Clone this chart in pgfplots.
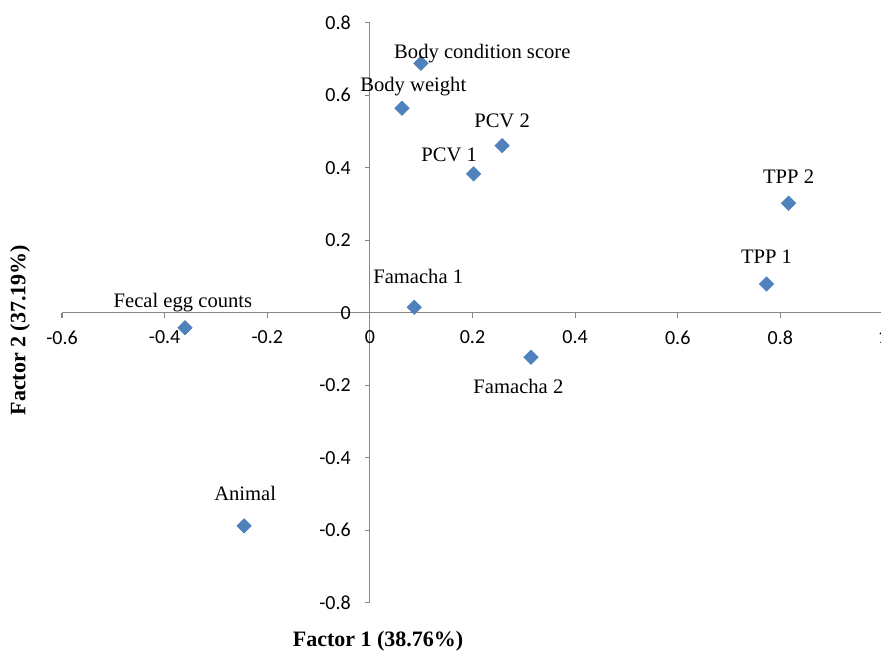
\documentclass[border=0pt]{standalone}
\usepackage{fontspec}
\setmainfont{Liberation Serif}
\newfontfamily\calibri{Carlito}
\usepackage{pgfplots}
\usepackage{pgfplotstable}
\pgfplotsset{compat=1.18}

\definecolor{ptblue}{HTML}{4F81BD}
\definecolor{axgray}{HTML}{868686}

% factor loadings, label offsets in pt
\pgfplotstableread[col sep=comma]{
x,y,dx,dy,label
-0.245,-0.588,0.5,16.3,Animal
0.0864,0.0149,2,15.3,Famacha 1
0.314,-0.123,-6.3,-14.7,Famacha 2
0.202,0.383,-12.2,9.8,PCV 1
0.2576,0.461,0,12.5,PCV 2
0.773,0.079,0,14,TPP 1
0.816,0.302,0,13.3,TPP 2
0.0624,0.564,5.7,11.7,Body weight
0.0995,0.688,30.7,5.7,Body condition score
-0.3604,-0.0414,-1,13.5,Fecal egg counts
}\pcadata

\begin{document}
\begin{tikzpicture}
  \begin{axis}[
      scale only axis,
      width=410.5pt, height=290pt,
      xmin=-0.6, xmax=1, ymin=-0.8, ymax=0.8,
      axis lines=middle,
      axis line style={-, draw=axgray, line width=0.6pt},
      hide obscured x ticks=false,
      hide obscured y ticks=false,
      xtick={-0.6,-0.4,...,1.01},
      ytick={-0.8,-0.6,...,0.81},
      tick align=outside,
      major tick length=2.5pt,
      tick style={draw=axgray, line width=0.6pt},
      ticklabel style={font=\calibri\fontsize{10}{12}\selectfont},
      /pgf/number format/assume math mode=true,
      /pgf/number format/fixed,
      xticklabel style={anchor=north, yshift=-3pt},
      yticklabel style={anchor=east, xshift=-3.5pt},
      clip=false,
    ]
    \addplot[only marks, mark=square*, mark size=2.5pt,
      mark options={rotate=45, fill=ptblue, draw=ptblue},
      point meta=explicit symbolic,
      visualization depends on={\thisrow{dx} \as \dx},
      visualization depends on={\thisrow{dy} \as \dy},
      nodes near coords,
      every node near coord/.append style={anchor=center,
        xshift=\dx pt, yshift=\dy pt, inner sep=0pt,
        text height=0.7em, text depth=0pt,
        font=\fontsize{10.3}{12}\selectfont, text=black},
    ] table[x=x, y=y, meta=label] {\pcadata};

    \node[font=\bfseries\fontsize{11}{13}\selectfont] at (rel axis cs:0.385,-0.067) {Factor 1 (38.76\%)};
    \node[font=\bfseries\fontsize{11}{13}\selectfont, rotate=90] at (rel axis cs:-0.0512,0.470) {Factor 2 (37.19\%)};
    \coordinate (bl) at (rel axis cs:0,0);
  \end{axis}
  \pgfresetboundingbox
  \useasboundingbox ([shift={(-31pt,-24.15pt)}]bl) rectangle ([shift={(409.5pt,301.35pt)}]bl);
\end{tikzpicture}
\end{document}
